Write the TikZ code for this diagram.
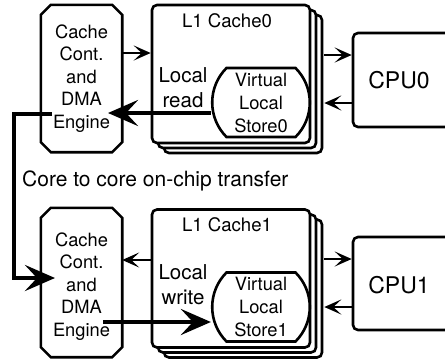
\documentclass[tikz,border=0pt]{standalone}
\usepackage{fontspec}
\setmainfont{TeX Gyre Heros}
\usetikzlibrary{arrows.meta,shapes.misc,shadows,calc}
\begin{document}
\begin{tikzpicture}[x=1pt,y=-1pt,
  box/.style={draw,line width=2.6pt,fill=white,inner sep=0pt},
  frame/.style={inner sep=0pt,minimum width=81pt,minimum height=147pt},
  octo/.style={line width=2.6pt,fill=white,line join=miter},
  ctrl/.style={inner sep=0pt,align=center,font=\fontsize{18.3}{22.5}\selectfont},
  cache/.style={box,rectangle,rounded corners=5pt,minimum width=158pt,
    minimum height=138pt,
    double copy shadow={shadow xshift=6pt,shadow yshift=-5pt}},
  store/.style={box,rounded rectangle,rounded rectangle arc length=90,
    minimum width=97pt,minimum height=69pt,align=center,
    font=\fontsize{18.3}{23}\selectfont},
  cpu/.style={box,rectangle,rounded corners=5pt,minimum width=107pt,
    minimum height=94pt},
  lbl/.style={inner sep=0pt,align=center},
  tharrow/.style={line width=2pt,-{Stealth[length=17pt,width=15pt,inset=8pt]}},
  thkarrow/.style={line width=4.5pt,-{Stealth[length=30pt,width=26pt,inset=12pt]}}
]
\useasboundingbox (0,0) rectangle (445,362);

% ---- core 0 ----
\node[cache] (l1c0) at (231,74) {};
\node[lbl,font=\fontsize{18.6}{22}\selectfont] (l1t0) at (227,21) {L1 Cache0};
\node[store] (vls0) at (261,102.5) {Virtual\\Local\\Store0};
\node[cpu] (cpu0) at (406.5,80) {};
\node[lbl,font=\fontsize{23}{26}\selectfont] (cpu0t) at (399,80) {CPU0};
\node[frame] (ccf0) at (81.5,78.5) {};
\draw[octo] ([xshift=10pt]ccf0.north west) -- ([xshift=-10pt]ccf0.north east)
  -- ([yshift=-10pt]ccf0.north east) -- ([yshift=10pt]ccf0.south east)
  -- ([xshift=-10pt]ccf0.south east) -- ([xshift=10pt]ccf0.south west)
  -- ([yshift=10pt]ccf0.south west) -- ([yshift=-10pt]ccf0.north west) -- cycle;
\node[ctrl] (cc0) at (ccf0) {Cache\\Cont.\\and\\DMA\\Engine};
\node[lbl,font=\fontsize{20.5}{25}\selectfont] (rdt) at (183,88) {Local\\read};

% ---- core 1 ----
\node[cache] (l1c1) at (231,278.5) {};
\node[lbl,font=\fontsize{18.6}{22}\selectfont] (l1t1) at (227,225) {L1 Cache1};
\node[store] (vls1) at (261,307) {Virtual\\Local\\Store1};
\node[cpu,minimum height=93pt] (cpu1) at (406.5,283.5) {};
\node[lbl,font=\fontsize{23}{26}\selectfont] (cpu1t) at (399,285) {CPU1};
\node[frame,minimum height=149pt] (ccf1) at (81.5,282.5) {};
\draw[octo] ([xshift=10pt]ccf1.north west) -- ([xshift=-10pt]ccf1.north east)
  -- ([yshift=-10pt]ccf1.north east) -- ([yshift=10pt]ccf1.south east)
  -- ([xshift=-10pt]ccf1.south east) -- ([xshift=10pt]ccf1.south west)
  -- ([yshift=10pt]ccf1.south west) -- ([yshift=-10pt]ccf1.north west) -- cycle;
\node[ctrl] (cc1) at ([yshift=-4pt]ccf1.center) {Cache\\Cont.\\and\\DMA\\Engine};
\node[lbl,font=\fontsize{20.5}{25}\selectfont] (wrt) at (183,285) {Local\\write};

\node[inner sep=0pt,anchor=base west,font=\fontsize{21}{25}\selectfont] (xfer)
  at (22,186) {Core to core on-chip transfer};

% ---- thin connectors ----
\draw[tharrow] (ccf0.east |- 0,53) -- (l1c0.west |- 0,53);
\draw[tharrow] ($(l1c0.east |- 0,55)+(13,0)$) -- (cpu0.west |- 0,55);
\draw[tharrow] (cpu0.west |- 0,103) -- ($(l1c0.east |- 0,103)+(13,0)$);
\draw[tharrow] (l1c1.west |- 0,260) -- (ccf1.east |- 0,260);
\draw[tharrow] ($(l1c1.east |- 0,259)+(13,0)$) -- (cpu1.west |- 0,259);
\draw[tharrow] (cpu1.west |- 0,307) -- ($(l1c1.east |- 0,307)+(13,0)$);

% ---- thick transfers ----
\coordinate (rdend) at (108,113);
\draw[thkarrow] (vls0.west |- rdend) -- (rdend);
\coordinate (wrstart) at (103,322);
\draw[thkarrow] (wrstart) -- (vls1.west |- wrstart);
\coordinate (xout) at (52,114);
\coordinate (xin) at (55,278);
\draw[thkarrow] (xout) -- (14,114) |- (xin);
\end{tikzpicture}
\end{document}
